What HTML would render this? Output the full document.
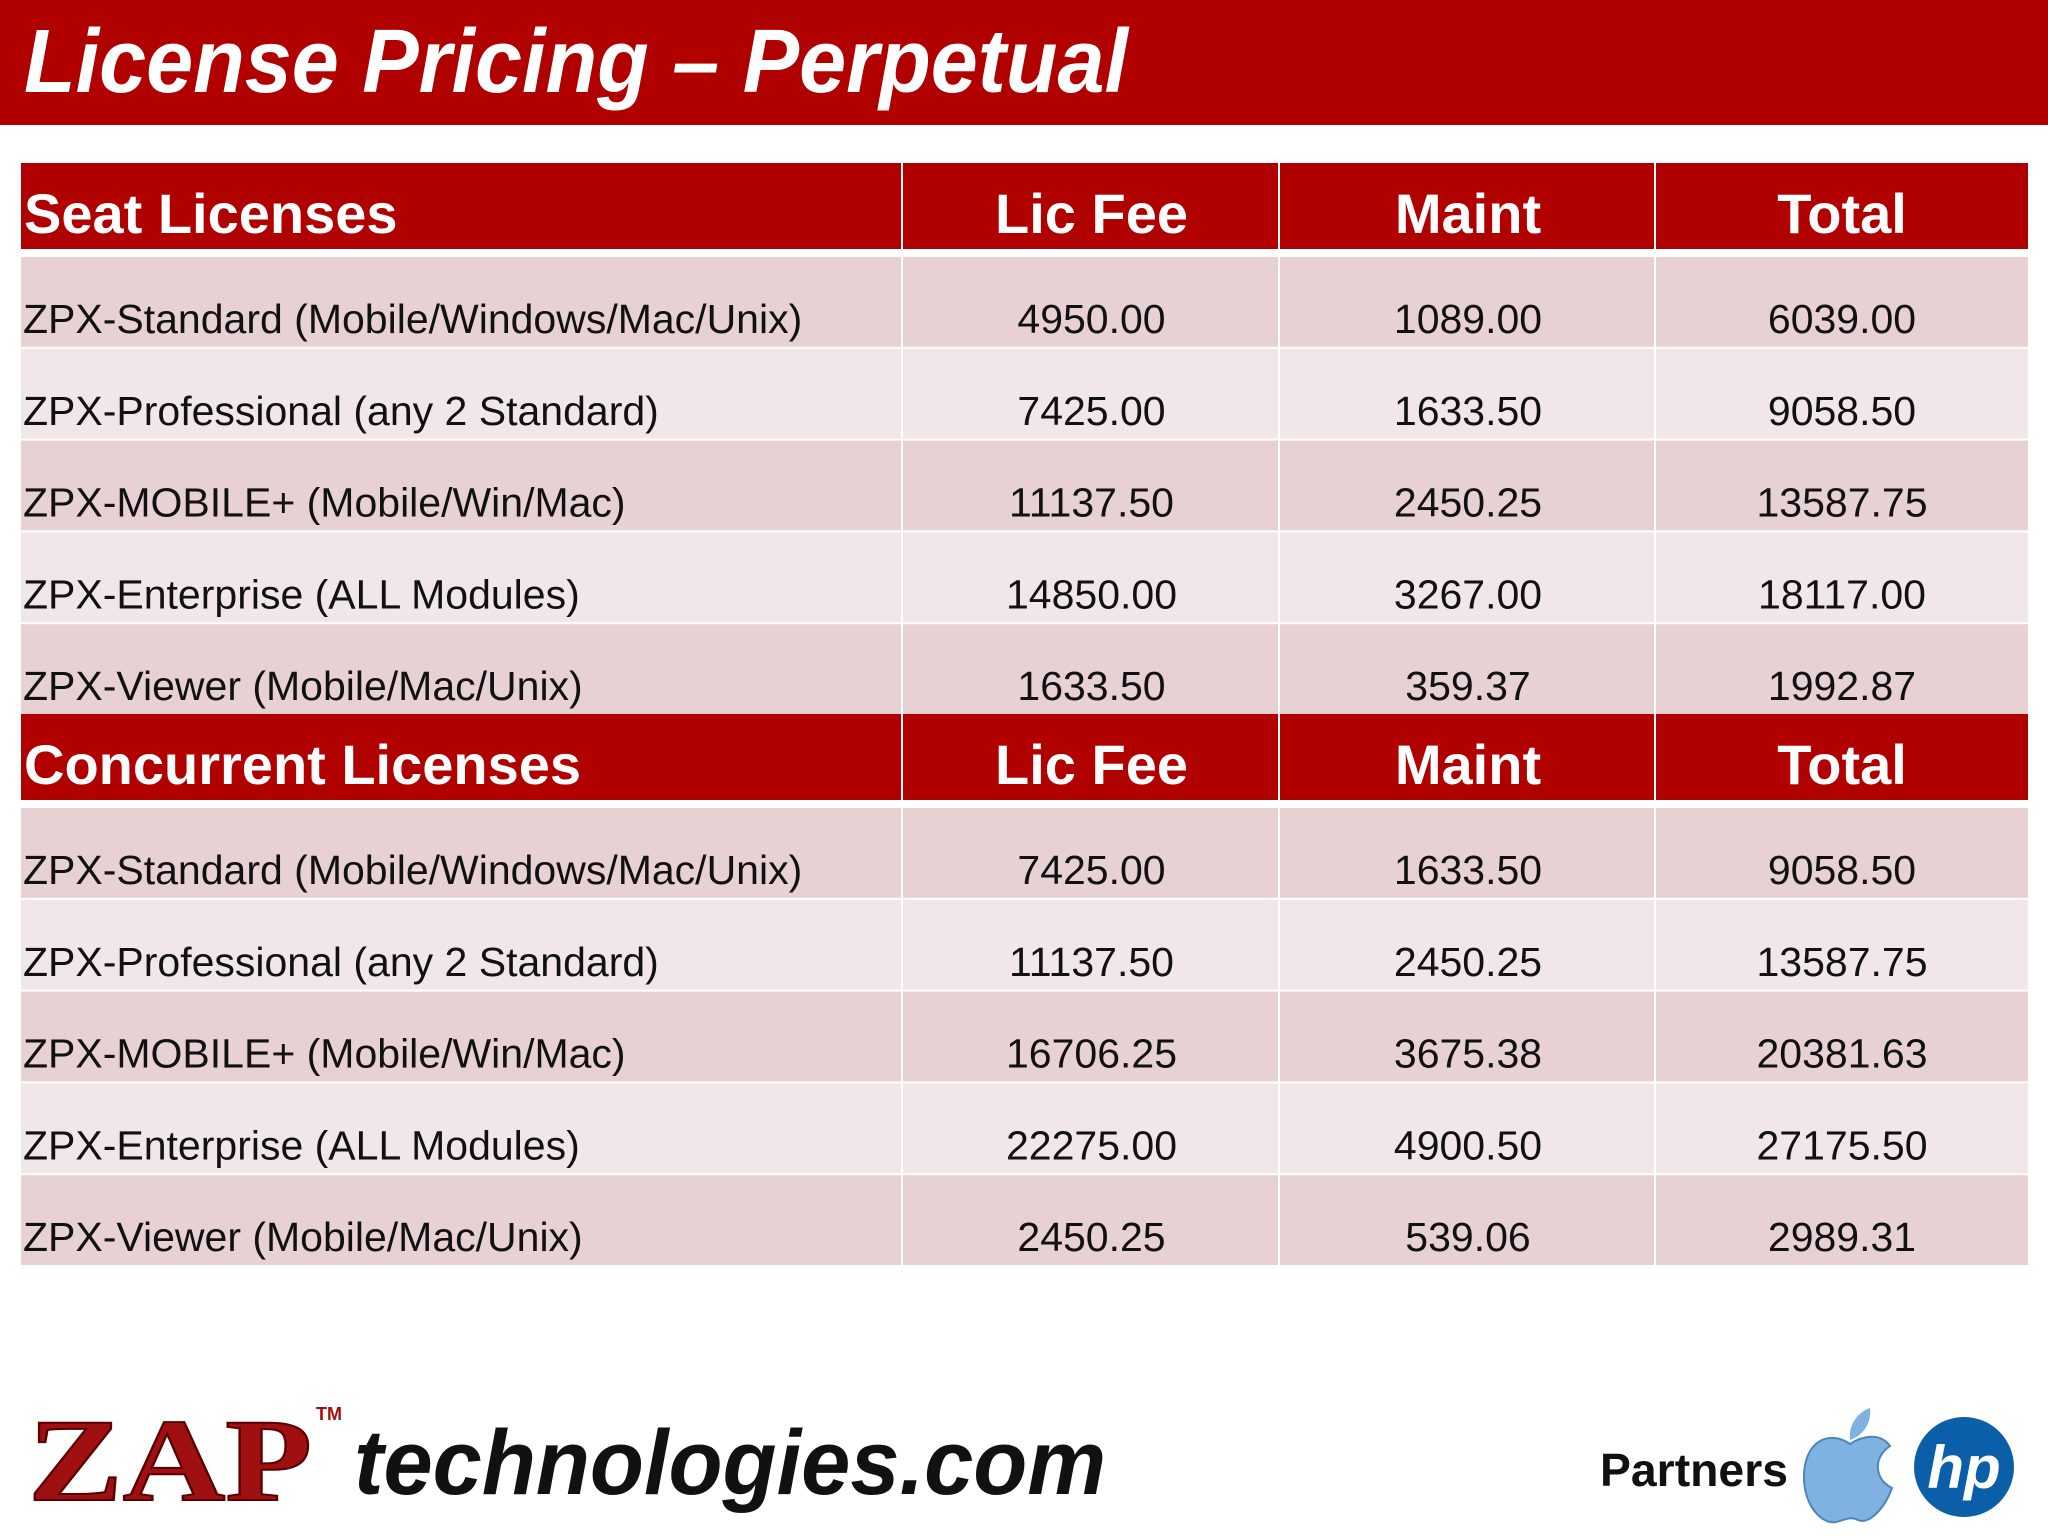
<!DOCTYPE html>
<html><head><meta charset="utf-8"><style>
html,body{margin:0;padding:0;background:#fff;}
svg{display:block;}
</style></head><body>
<svg id="s" width="2048" height="1536" viewBox="0 0 2048 1536" xmlns="http://www.w3.org/2000/svg" font-family="'Liberation Sans', sans-serif">
<rect x="0" y="0" width="2048" height="125" fill="#b00000"/>
<text x="24" y="92" font-size="90" font-weight="bold" font-style="italic" fill="#fff" textLength="1104" lengthAdjust="spacingAndGlyphs">License Pricing – Perpetual</text>
<g id="tbl"></g>
<g>
<text x="28" y="1500" font-family="'Liberation Serif', serif" font-size="118" font-weight="bold" fill="#a01010" stroke="#5a0000" stroke-width="2" textLength="284" lengthAdjust="spacingAndGlyphs">ZAP</text>
<text x="316" y="1420" font-size="18" font-weight="bold" fill="#a01010">TM</text>
<text x="354" y="1494" font-size="92" font-weight="bold" font-style="italic" fill="#111" textLength="752" lengthAdjust="spacingAndGlyphs">technologies.com</text>
</g>
<g>
<text x="1600" y="1486" font-size="46" font-weight="bold" fill="#111" textLength="188" lengthAdjust="spacingAndGlyphs">Partners</text>
<path d="M1850 1444 C1830 1430 1805 1440 1804 1475 C1803 1505 1822 1525 1836 1522 C1844 1520 1850 1516 1858 1520 C1868 1525 1884 1510 1892 1488 C1875 1480 1872 1458 1890 1446 C1880 1432 1862 1436 1850 1444 Z" fill="#7fb2e0" stroke="#4a86c0" stroke-width="2"/>
<path d="M1850 1440 C1848 1425 1858 1412 1870 1408 C1872 1424 1862 1436 1850 1440 Z" fill="#7fb2e0"/>
<circle cx="1964" cy="1467" r="50" fill="#0b5fa8"/>
<text x="1964" y="1488" text-anchor="middle" font-size="60" font-weight="bold" font-style="italic" fill="#fff">hp</text>
</g>
</svg>
<script>
const seatNames=["ZPX-Standard (Mobile/Windows/Mac/Unix)","ZPX-Professional (any 2 Standard)","ZPX-MOBILE+ (Mobile/Win/Mac)","ZPX-Enterprise (ALL Modules)","ZPX-Viewer (Mobile/Mac/Unix)"];
const seatLic=["4950.00","7425.00","11137.50","14850.00","1633.50"];
const seatMaint=["1089.00","1633.50","2450.25","3267.00","359.37"];
const seatTotal=["6039.00","9058.50","13587.75","18117.00","1992.87"];
const concNames=["ZPX-Standard (Mobile/Windows/Mac/Unix)","ZPX-Professional (any 2 Standard)","ZPX-MOBILE+ (Mobile/Win/Mac)","ZPX-Enterprise (ALL Modules)","ZPX-Viewer (Mobile/Mac/Unix)"];
const concLic=["7425.00","11137.50","16706.25","22275.00","2450.25"];
const concMaint=["1633.50","2450.25","3675.38","4900.50","539.06"];
const concTotal=["9058.50","13587.75","20381.63","27175.50","2989.31"];
const headers=["Lic Fee","Maint","Total"];

const NS="http://www.w3.org/2000/svg";
const g=document.getElementById('tbl');
const colX=[21,903,1280,1656,2028];
function el(tag,attrs,parent){const e=document.createElementNS(NS,tag);for(const k in attrs)e.setAttribute(k,attrs[k]);(parent||g).appendChild(e);return e;}
function section(title,top,names,lic,maint,total,key){
  for(let c=0;c<4;c++){
    const r=el('rect',{x:colX[c],y:top,width:colX[c+1]-colX[c]-(c<3?2:0),height:86,fill:'#b00000'});
    
    
  }
  const t=el('text',{x:24,y:top+70,'font-size':56,'font-weight':'bold',fill:'#fff','xml:space':'preserve'});
  
  
  t.textContent=title;
  headers.forEach((h,i)=>{
    const ht=el('text',{x:(colX[i+1]+colX[i+2])/2,y:top+70,'font-size':56,'font-weight':'bold',fill:'#fff','text-anchor':'middle'});
    
    
    ht.textContent=h;
  });
  const rowTop=top+94, rh=91.8;
  names.forEach((n,i)=>{
    const y=rowTop+i*rh;
    const fill=i%2===0?'#e8d1d3':'#f2e7e8';
    for(let c=0;c<4;c++){
      const r=el('rect',{x:colX[c],y:y,width:colX[c+1]-colX[c]-(c<3?2:0),height:rh-2,fill:fill});
      
      
    }
    const lt=el('text',{x:23,y:y+76,'font-size':41,fill:'#111'});
    
    
    lt.textContent=n;
    [lic[i],maint[i],total[i]].forEach((v,j)=>{
      const vt=el('text',{x:(colX[j+1]+colX[j+2])/2,y:y+76,'font-size':41,fill:'#111','text-anchor':'middle'});
      
      
      vt.textContent=v;
    });
  });
}
section("Seat Licenses",163,seatNames,seatLic,seatMaint,seatTotal,'seat');
section("Concurrent  Licenses",714,concNames,concLic,concMaint,concTotal,'concurrent');
</script>
</body></html>
